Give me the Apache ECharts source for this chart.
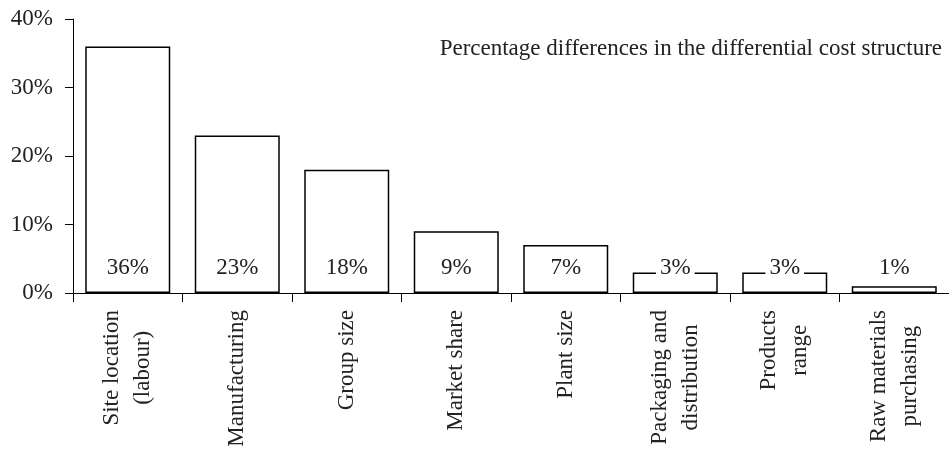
<!DOCTYPE html>
<html>
<head>
<meta charset="utf-8">
<script src="https://cdn.jsdelivr.net/npm/echarts@6/dist/echarts.min.js"></script>
<style>
html,body{margin:0;padding:0;background:#fff;}
#chart{width:949px;height:450px;}
</style>
</head>
<body>
<div id="chart"></div>
<script>
const categories = [
  'Site location\n(labour)',
  'Manufacturing',
  'Group size',
  'Market share',
  'Plant size',
  'Packaging and\ndistribution',
  'Products\nrange',
  'Raw materials\npurchasing'
];
const values = [36, 23, 18, 9, 7, 3, 3, 1];
const yTicks = [0, 10, 20, 30, 40];
const seriesName = 'Percentage differences in the differential cost structure';

const FONT = '"Liberation Serif", "DejaVu Serif", serif';
const FS = 23;
const chart = echarts.init(document.getElementById('chart'), null, {renderer: 'canvas'});
chart.setOption({
  animation: false,
  backgroundColor: '#fff',
  title: {
    text: seriesName,
    right: 7,
    top: 37,
    padding: 0,
    textStyle: {fontFamily: FONT, fontSize: FS, fontWeight: 'normal', color: '#222'}
  },
  grid: {left: 73, right: -4, top: 19, bottom: 157, containLabel: false},
  xAxis: {
    type: 'category',
    data: categories,
    boundaryGap: true,
    axisLine: {show: true, lineStyle: {color: '#000', width: 1}},
    axisTick: {show: true, alignWithLabel: false, length: 9, lineStyle: {color: '#000'}},
    axisLabel: {
      rotate: 90,
      interval: 0,
      margin: 17,
      fontFamily: FONT,
      fontSize: FS,
      color: '#222',
      formatter: function (v) {
        return v.split('\n').map(s => '{c|' + s + '}').join('\n');
      },
      rich: {c: {align: 'center', fontFamily: FONT, fontSize: FS, color: '#222', lineHeight: 31}}
    },
    splitLine: {show: false}
  },
  yAxis: {
    type: 'value',
    min: yTicks[0],
    max: yTicks[yTicks.length - 1],
    interval: 10,
    axisLine: {show: true, lineStyle: {color: '#000', width: 1}},
    axisTick: {show: true, length: 8, lineStyle: {color: '#000'}},
    axisLabel: {
      margin: 20,
      fontFamily: FONT,
      fontSize: FS,
      color: '#222',
      formatter: v => v + '%'
    },
    splitLine: {show: false}
  },
  series: [{
    name: seriesName,
    type: 'bar',
    data: values,
    barWidth: 85,
    itemStyle: {color: '#fff', borderColor: '#000', borderWidth: 1.5},
    label: {
      show: true,
      position: 'insideBottom',
      distance: 14,
      formatter: p => p.value + '%',
      fontFamily: FONT,
      fontSize: FS,
      lineHeight: 22,
      color: '#222',
      backgroundColor: '#fff',
      padding: [0, 4]
    }
  }]
});
</script>
</body>
</html>
